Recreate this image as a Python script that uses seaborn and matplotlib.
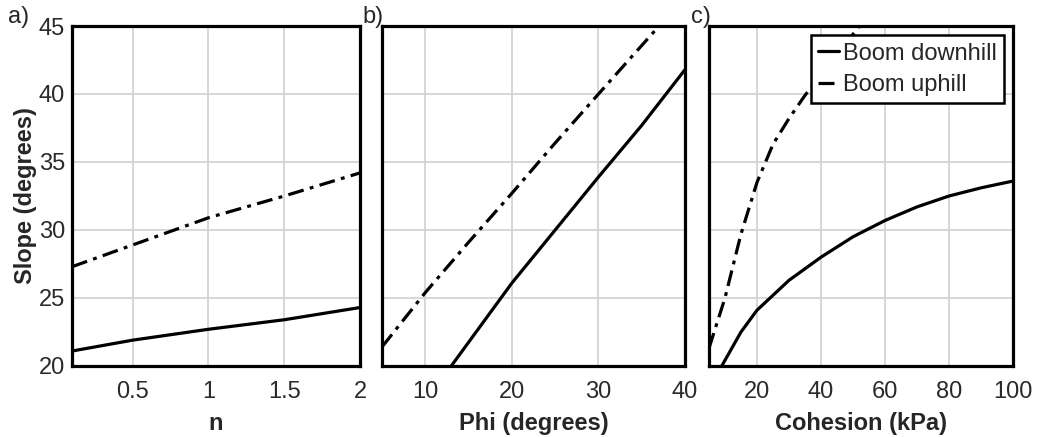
import numpy as np
import pandas as pd
import matplotlib
matplotlib.use('Agg')
import matplotlib.pyplot as plt
import seaborn as sns

# panel a) slope vs n
n_vals = [0.1, 0.5, 1.0, 1.5, 2.0]
n_down = [21.1, 21.9, 22.7, 23.4, 24.3]
n_up = [27.3, 28.9, 30.9, 32.5, 34.2]

# panel b) slope vs friction angle
phi_down_x = [13, 20, 25, 30, 35, 40]
phi_down = [20, 26.1, 30.0, 33.9, 37.7, 41.8]
phi_up_x = [5, 10, 15, 20, 25, 30, 37]
phi_up = [21.4, 25.4, 29.1, 32.7, 36.4, 40.0, 45]

# panel c) slope vs cohesion
coh_down_x = [9, 15, 20, 30, 40, 50, 60, 70, 80, 90, 100]
coh_down = [20, 22.5, 24.1, 26.3, 28.0, 29.5, 30.7, 31.7, 32.5, 33.1, 33.6]
coh_up_x = [5, 10, 15, 20, 25, 30, 35, 40, 45, 52]
coh_up = [21.3, 25, 29.7, 33.5, 36.3, 38.2, 39.9, 41.4, 42.9, 45]

xlabels = ['n', 'Phi (degrees)', 'Cohesion (kPa)']
panel_tags = ['a)', 'b)', 'c)']
xlims = [(0.1, 2), (5, 40), (5, 100)]
xticks = [[0.5, 1, 1.5, 2], [10, 20, 30, 40], [20, 40, 60, 80, 100]]

sns.set_style("whitegrid")
plt.rcParams['font.family'] = ['Liberation Sans', 'DejaVu Sans']
fs = 17

fig = plt.figure(figsize=(10.38, 4.37), dpi=100)
positions = [[0.0694, 0.1625, 0.2775, 0.778],
             [0.368, 0.1625, 0.292, 0.778],
             [0.683, 0.1625, 0.293, 0.778]]
axes = [fig.add_axes(p) for p in positions]
tag_x = [0.008, 0.349, 0.666]

dashdot = (0, (5, 2, 1.2, 2))
series = [
    ((n_vals, n_down), (n_vals, n_up)),
    ((phi_down_x, phi_down), (phi_up_x, phi_up)),
    ((coh_down_x, coh_down), (coh_up_x, coh_up)),
]

for i, ax in enumerate(axes):
    (dx, dy), (ux, uy) = series[i]
    sns.lineplot(x=dx, y=dy, ax=ax, color='black', lw=2.3, sort=False,
                 estimator=None, label='Boom downhill')
    sns.lineplot(x=ux, y=uy, ax=ax, color='black', lw=2.3, sort=False,
                 estimator=None, label='Boom uphill', linestyle=dashdot)
    ax.set_xlim(*xlims[i])
    ax.set_ylim(20, 45)
    ax.set_xticks(xticks[i])
    ax.set_yticks([20, 25, 30, 35, 40, 45])
    ax.set_xticklabels([f'{t:g}' for t in xticks[i]])
    ax.grid(True, color='#d4d4d4', lw=1.3)
    for s in ax.spines.values():
        s.set_color('black')
        s.set_linewidth(2.3)
    ax.tick_params(direction='in', length=3, width=1, colors='black',
                   labelsize=fs, pad=5, labelcolor='#2a2a2a')
    ax.tick_params(axis='x', pad=11)
    ax.set_xlabel(xlabels[i], fontsize=fs, fontweight='bold', labelpad=6)
    if i > 0:
        ax.set_yticklabels([])
        ax.set_ylabel('')
    else:
        ax.set_ylabel('Slope (degrees)', fontsize=fs, fontweight='bold', labelpad=1)
    fig.text(tag_x[i], 0.96, panel_tags[i], ha='left', va='center', fontsize=fs)
    if i < 2:
        ax.get_legend().remove()
    else:
        leg = ax.legend(loc='upper right', fontsize=fs, frameon=True, fancybox=False,
                        handlelength=0.9, handletextpad=0.15, borderpad=0.3,
                        labelspacing=0.4, borderaxespad=0.4, framealpha=1)
        leg.get_frame().set_edgecolor('black')
        leg.get_frame().set_linewidth(1.8)

fig.savefig('out.png', dpi=100)
